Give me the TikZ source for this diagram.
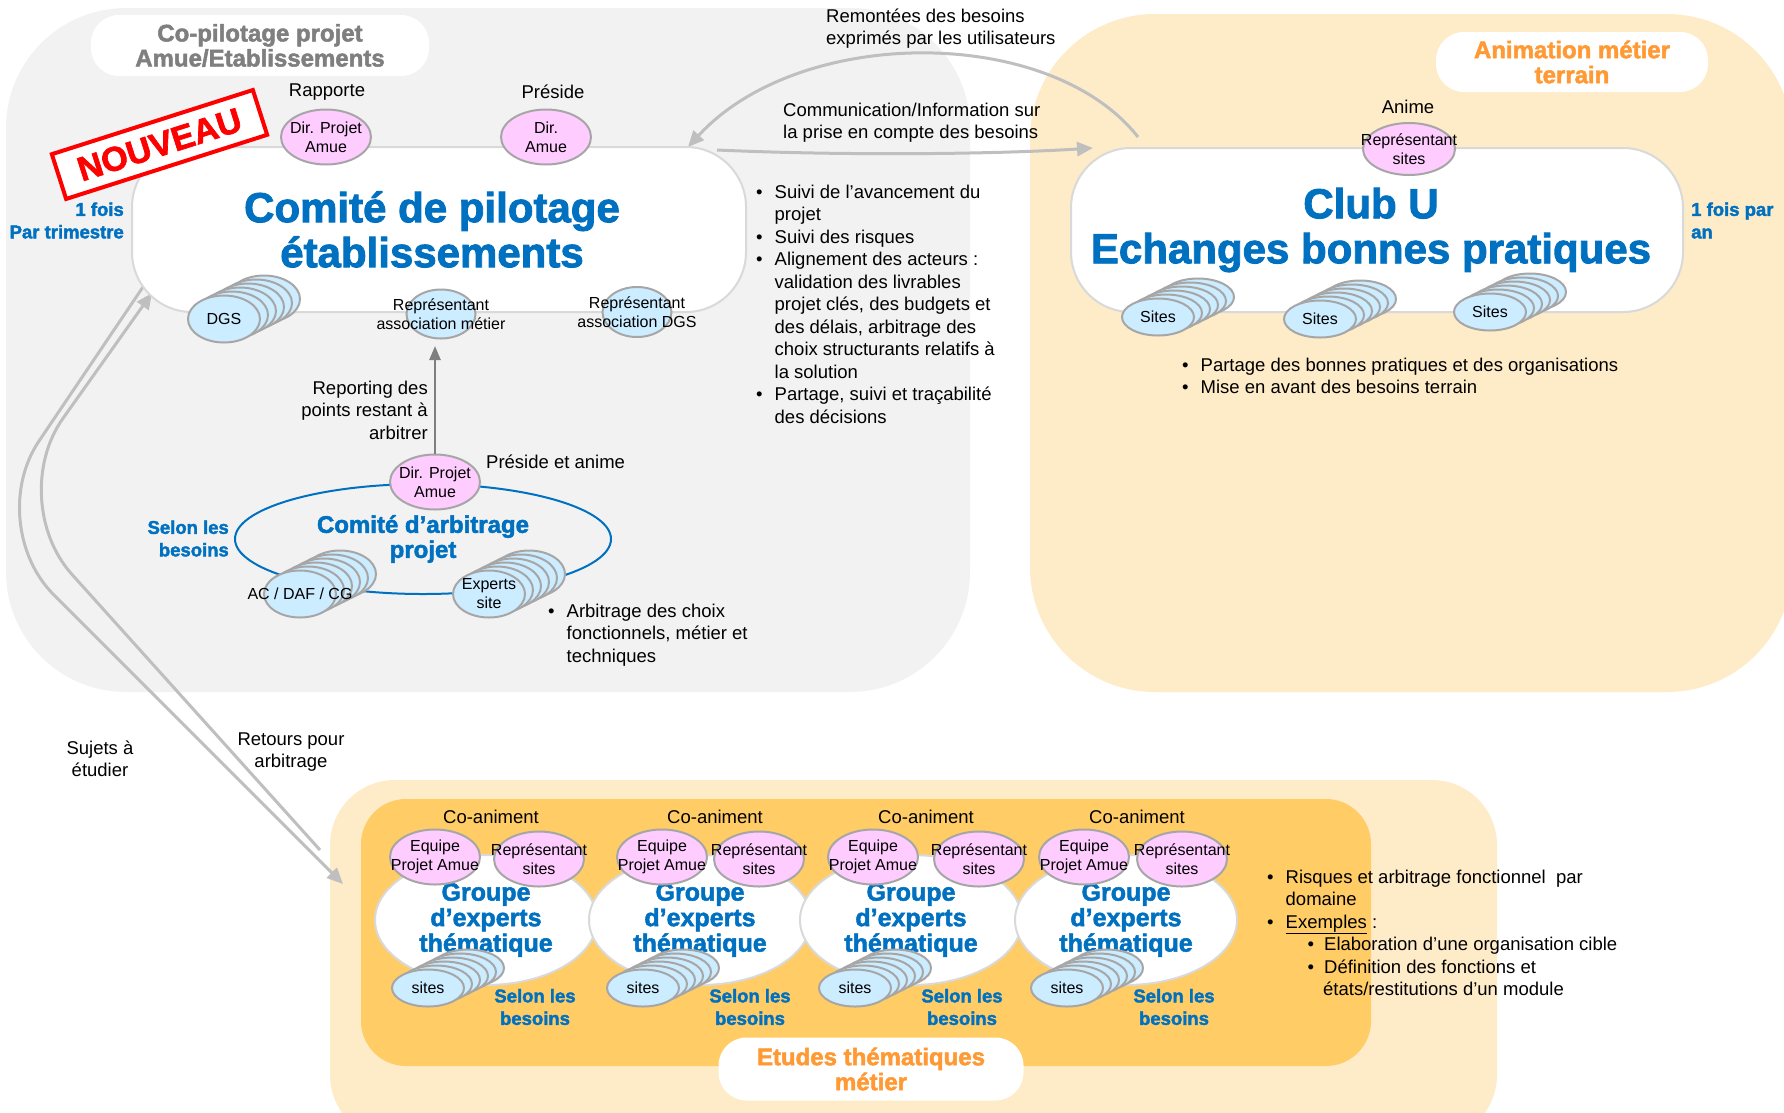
\documentclass[tikz,border=0pt]{standalone}
\usepackage{fontspec}
\setmainfont[BoldFeatures = {FakeBold = 2}]{Liberation Sans}
\usetikzlibrary{shapes.geometric,arrows.meta}

\definecolor{bluetxt}{HTML}{0070C0}
\definecolor{greybg}{HTML}{F2F2F2}
\definecolor{paleorange}{HTML}{FEEBC8}
\definecolor{deeporange}{HTML}{FFCC66}
\definecolor{orangetxt}{HTML}{FF9933}
\definecolor{pinkfill}{HTML}{FFCCFF}
\definecolor{bluefill}{HTML}{CCECFF}
\definecolor{rimgrey}{HTML}{A6A6A6}
\definecolor{boxrim}{HTML}{D9D9D9}
\definecolor{arrowgrey}{HTML}{BFBFBF}
\definecolor{labelgrey}{HTML}{7F7F7F}

% pile of blue discs: name, x, y, size style, text
\newcommand\bluestack[5]{%
    \foreach \k in {5,4,...,1}
        \node[bluec, #4, xshift = \k*8, yshift = \k*4] (#1-\k) at (#2,#3) {};
    \node[bluec, #4, label = {[circtxt]center:#5}] (#1) at (#2,#3) {};
}

\begin{document}
\begin{tikzpicture}[
        x = 1pt, y = -1pt,
        every node/.style = {inner sep = 0, font = \fontsize{18.5}{22.5}\selectfont},
        circtxt/.style = {align = center, font = \fontsize{16}{19}\selectfont},
        pinkc/.style = {ellipse, draw = rimgrey, fill = pinkfill, line width = 2,
            minimum width = 90, minimum height = 55},
        bluec/.style = {ellipse, draw = rimgrey, fill = bluefill, line width = 2},
        roundstack/.style = {minimum width = 72, minimum height = 47},
        flatstack/.style = {minimum width = 72, minimum height = 37},
        mainbox/.style = {draw = boxrim, fill = white, line width = 2, rounded corners = 60},
        title/.style = {align = center, text = bluetxt, font = \fontsize{42}{45}\selectfont\bfseries},
        tag/.style = {fill = white, rounded corners = 28, align = center,
            font = \fontsize{24}{25}\selectfont\bfseries},
        freq/.style = {text = bluetxt, font = \fontsize{18.5}{22.5}\selectfont\bfseries},
        flow/.style = {draw = arrowgrey, line width = 3, -{Triangle[length = 16pt, width = 14pt]}},
        report/.style = {draw = labelgrey, line width = 2.5, -{Triangle[length = 14pt, width = 11pt]}},
    ]
    \useasboundingbox (0,0) rectangle (1784,1112);

    % areas
    \fill[greybg, rounded corners = 120] (6,8) rectangle (970,692);
    \fill[paleorange, rounded corners = 125] (1030,14) rectangle (1792,692);
    \fill[paleorange, rounded corners = 65] (330,780) rectangle (1497,1140);
    \fill[deeporange, rounded corners = 45] (361,799) rectangle (1371,1066);

    \node[tag, text = labelgrey, minimum width = 338, minimum height = 61] (copiltag) at (260,45.5)
        {Co-pilotage projet\\Amue/Etablissements};
    \node[tag, text = orangetxt, minimum width = 272, minimum height = 60] (animtag) at (1572,62)
        {Animation métier\\terrain};
    \node[tag, text = orangetxt, minimum width = 305, minimum height = 63] (etudestag) at (871,1069)
        {Etudes thématiques\\métier};

    % flows between the bodies
    \coordinate (remstart) at (1138,137);
    \coordinate (remend) at (688,147);
    \coordinate (comstart) at (717,150);
    \coordinate (comend) at (1093,148);
    \coordinate (sujstart) at (145,284);
    \coordinate (sujend) at (343,884);
    \coordinate (retstart) at (320,850);
    \coordinate (retend) at (152,293);
    \draw[flow] (remstart) .. controls (1050,25) and (800,25) .. (remend);
    \draw[flow] (comstart) .. controls (850,156) and (1000,154) .. (comend);
    \draw[flow, rounded corners = 100] (sujstart) -- (-17,524) -- (sujend);
    \draw[flow, rounded corners = 100] (retstart) -- (5,500) -- (retend);
    \node[align = left, anchor = west] (remontees) at (826,28.5)
        {Remontées des besoins\\exprimés par les utilisateurs};
    \node[align = left, anchor = west] (communication) at (783,122.5)
        {Communication/Information sur\\la prise en compte des besoins};
    \node[align = center] (sujets) at (100,759) {Sujets à\\étudier};
    \node[align = center] (retours) at (291,752) {Retours pour\\arbitrage};

    % comite de pilotage
    \node[mainbox, minimum width = 614, minimum height = 165] (copil) at (439,229.5) {};
    \node[title] (copiltitle) at (432,229.5) {Comité de pilotage\\établissements};
    \node[pinkc, label = {[circtxt]center:Dir. Projet\\Amue}] (dirprojet) at (326,137) {};
    \node[pinkc, label = {[circtxt]center:Dir.\\Amue}] (diramue) at (546,137) {};
    \node (rapporte) at (327,92) {Rapporte};
    \node (preside) at (553,92) {Préside};
    \bluestack{dgs}{224}{319}{roundstack}{DGS}
    \node[bluec, minimum width = 69, minimum height = 49,
        label = {[circtxt]center:Représentant\\association métier}] (assometier) at (441,314) {};
    \node[bluec, minimum width = 69, minimum height = 50,
        label = {[circtxt]center:Représentant\\association DGS}] (assodgs) at (637,312) {};
    \node[freq, align = right, anchor = east] (freqcopil) at (124,220.5) {1 fois\\Par trimestre};
    \node[draw = red, line width = 4, fill = white, text = red, rotate = 17.7,
        minimum width = 211, minimum height = 47,
        font = \fontsize{34}{34}\selectfont\bfseries] (nouveau) at (159.5,144.5) {NOUVEAU};
    \node[anchor = base west] (suivi) at (756,198) {\begin{tabular}[t]{@{}l@{\hspace{12pt}}l@{}}
        \textbullet & Suivi de l’avancement du\\
                    & projet\\
        \textbullet & Suivi des risques\\
        \textbullet & Alignement des acteurs :\\
                    & validation des livrables\\
                    & projet clés, des budgets et\\
                    & des délais, arbitrage des\\
                    & choix structurants relatifs à\\
                    & la solution\\
        \textbullet & Partage, suivi et traçabilité\\
                    & des décisions
        \end{tabular}};

    % comite d'arbitrage
    \node[ellipse, draw = bluetxt, line width = 2, minimum width = 376, minimum height = 110,
        align = center, text = bluetxt, font = \fontsize{24}{25}\selectfont\bfseries]
        (arbitrage) at (423,539) {Comité d’arbitrage\\projet};
    \node[pinkc, label = {[circtxt]center:Dir. Projet\\Amue}] (dirarb) at (435,482) {};
    \bluestack{acdaf}{300}{594}{roundstack}{AC / DAF / CG}
    \bluestack{experts}{489}{594}{roundstack}{Experts\\site}
    \draw[report, shorten > = 6.5pt] (dirarb.north) -- (dirarb.north |- assometier.south);
    \node[align = right, anchor = east] (reporting) at (428,410)
        {Reporting des\\points restant à\\arbitrer};
    \node[anchor = west] (presideanime) at (486,462) {Préside et anime};
    \node[freq, align = right, anchor = east] (selonarb) at (229,538.5) {Selon les\\besoins};
    \node[anchor = base west] (arbchoix) at (548,617) {\begin{tabular}[t]{@{}l@{\hspace{12pt}}l@{}}
        \textbullet & Arbitrage des choix\\
                    & fonctionnels, métier et\\
                    & techniques
        \end{tabular}};

    % club U
    \node[mainbox, minimum width = 612, minimum height = 164] (club) at (1377,230) {};
    \node[title] (clubtitle) at (1371,230) {Club U\\Echanges bonnes pratiques};
    \node[pinkc, minimum width = 92, minimum height = 52,
        label = {[circtxt]center:Représentant\\sites}] (repclub) at (1409,149) {};
    \node (anime) at (1408,107) {Anime};
    \bluestack{sitesa}{1158}{317}{flatstack}{Sites}
    \bluestack{sitesb}{1320}{319}{flatstack}{Sites}
    \bluestack{sitesc}{1490}{312}{flatstack}{Sites}
    \node[freq, align = left, anchor = west] (freqclub) at (1691,220.5) {1 fois par\\an};
    \node[anchor = base west] (partage) at (1182,371) {\begin{tabular}[t]{@{}l@{\hspace{12pt}}l@{}}
        \textbullet & Partage des bonnes pratiques et des organisations\\
        \textbullet & Mise en avant des besoins terrain
        \end{tabular}};

    % groupes d'experts
    \foreach \gx/\ex/\rx/\cx/\sx/\lx [count = \n] in
        {486/435/539/491/428/535, 700/662/759/715/643/750,
         911/873/979/926/855/962, 1126/1084/1182/1137/1067/1174} {
        \node[ellipse, draw = boxrim, fill = white, line width = 2,
            minimum width = 222, minimum height = 130, align = center, text = bluetxt,
            font = \fontsize{25}{25.5}\selectfont\bfseries]
            (groupe\n) at (\gx,920) {Groupe\\d’experts\\thématique};
        \node (coanime\n) at (\cx,817) {Co-animent};
        \node[pinkc, label = {[circtxt]center:Equipe\\Projet Amue}] (equipe\n) at (\ex,857) {};
        \node[pinkc, label = {[circtxt]center:Représentant\\sites}] (repsites\n) at (\rx,859) {};
        \bluestack{sites\n}{\sx}{988}{flatstack}{sites}
        \node[freq, align = center] (selon\n) at (\lx,1007) {Selon les\\besoins};
    }
    \node[anchor = base west] (risques) at (1267,883) {\begin{tabular}[t]{@{}l@{\hspace{12pt}}l@{}}
        \textbullet & Risques et arbitrage fonctionnel\ \ par\\
                    & domaine\\
        \textbullet & \underline{Exemples} :\\
                    & \hspace{22pt}\textbullet\hspace{10pt}Elaboration d’une organisation cible\\
                    & \hspace{22pt}\textbullet\hspace{10pt}Définition des fonctions et\\
                    & \hspace{37.5pt}états/restitutions d’un module
        \end{tabular}};
\end{tikzpicture}
\end{document}
